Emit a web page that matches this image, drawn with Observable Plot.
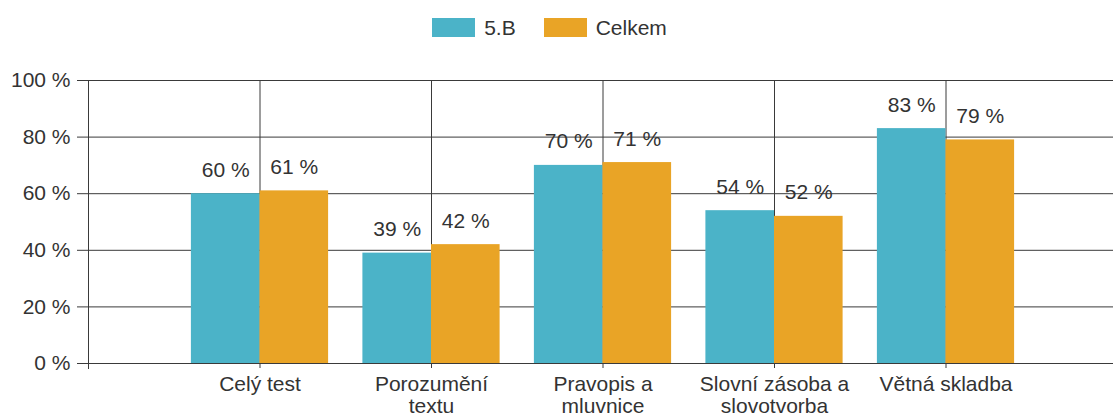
<!DOCTYPE html>
<html>
<head>
<meta charset="utf-8">
<script src="https://cdn.jsdelivr.net/npm/d3@7"></script>
<script src="https://cdn.jsdelivr.net/npm/@observablehq/plot@0.6"></script>
<style>
  body { margin: 0; background: #fff; font-family: "Liberation Sans", Arial, sans-serif; color: #333; }
  #legend { position: relative; height: 60px; width: 1113px; display: flex; justify-content: center; align-items: flex-start; padding-top: 18px; box-sizing: border-box; padding-right: 14px; }
  .item { display: flex; align-items: center; font-size: 21px; line-height: 19px; }
  .sw { width: 43px; height: 19px; margin-right: 9px; }
  .item + .item { margin-left: 28px; }
</style>
</head>
<body>
<div id="legend"></div>
<div id="chart"></div>
<script>
const categories = ["Celý test", "Porozumění textu", "Pravopis a mluvnice", "Slovní zásoba a slovotvorba", "Větná skladba"];
const tickLabels = ["Celý test", "Porozumění\ntextu", "Pravopis a\nmluvnice", "Slovní zásoba a\nslovotvorba", "Větná skladba"];
const series = ["5.B", "Celkem"];
const values5B = [60, 39, 70, 54, 83];
const valuesCelkem = [61, 42, 71, 52, 79];
const yTicks = [0, 20, 40, 60, 80, 100];
const colors = ["#4bb3c8", "#e9a426"];

const legend = document.getElementById("legend");
series.forEach((s, i) => {
  const item = document.createElement("div");
  item.className = "item";
  const sw = document.createElement("div");
  sw.className = "sw";
  sw.style.background = colors[i];
  const t = document.createElement("span");
  t.textContent = s;
  item.appendChild(sw);
  item.appendChild(t);
  legend.appendChild(item);
});

const data5B = categories.map((c, i) => ({category: c, value: values5B[i]}));
const dataCelkem = categories.map((c, i) => ({category: c, value: valuesCelkem[i]}));
const labelOf = new Map(categories.map((c, i) => [c, tickLabels[i]]));

const paddingInner = 0.2;
const step = 171.5;
const half = (1 - paddingInner) * step / 2;
const lineColor = "#3a3a3a";

const chart = Plot.plot({
  width: 1113,
  height: 360,
  marginTop: 20,
  marginBottom: 57,
  marginLeft: 88,
  marginRight: -4,
  style: {fontSize: "21px", fontFamily: "'Liberation Sans', Arial, sans-serif", color: "#333", background: "#fff"},
  x: {domain: categories, paddingInner: paddingInner, paddingOuter: 0.6, round: false},
  y: {domain: [0, 100]},
  marks: [
    Plot.ruleY(yTicks, {y: d => d, stroke: lineColor}),
    Plot.ruleX(categories, {x: d => d, stroke: lineColor}),
    Plot.frame({anchor: "left", stroke: lineColor, insetBottom: -5}),
    Plot.barY(data5B, {x: "category", y: "value", fill: colors[0], insetRight: half}),
    Plot.barY(dataCelkem, {x: "category", y: "value", fill: colors[1], insetLeft: half}),
    Plot.text(data5B, {x: "category", y: "value", text: d => d.value + " %", dx: -half / 2, dy: -17, lineAnchor: "bottom", fill: "#333"}),
    Plot.text(dataCelkem, {x: "category", y: "value", text: d => d.value + " %", dx: half / 2, dy: -17, lineAnchor: "bottom", fill: "#333"}),
    Plot.axisY({ticks: yTicks, tickFormat: d => d + " %", tickSize: 11, tickPadding: 7, stroke: lineColor, label: null}),
    Plot.axisX({tickSize: 5, tickPadding: 7, tickFormat: d => labelOf.get(d), lineHeight: 1.05, stroke: lineColor, label: null})
  ]
});
document.getElementById("chart").appendChild(chart);
</script>
</body>
</html>
